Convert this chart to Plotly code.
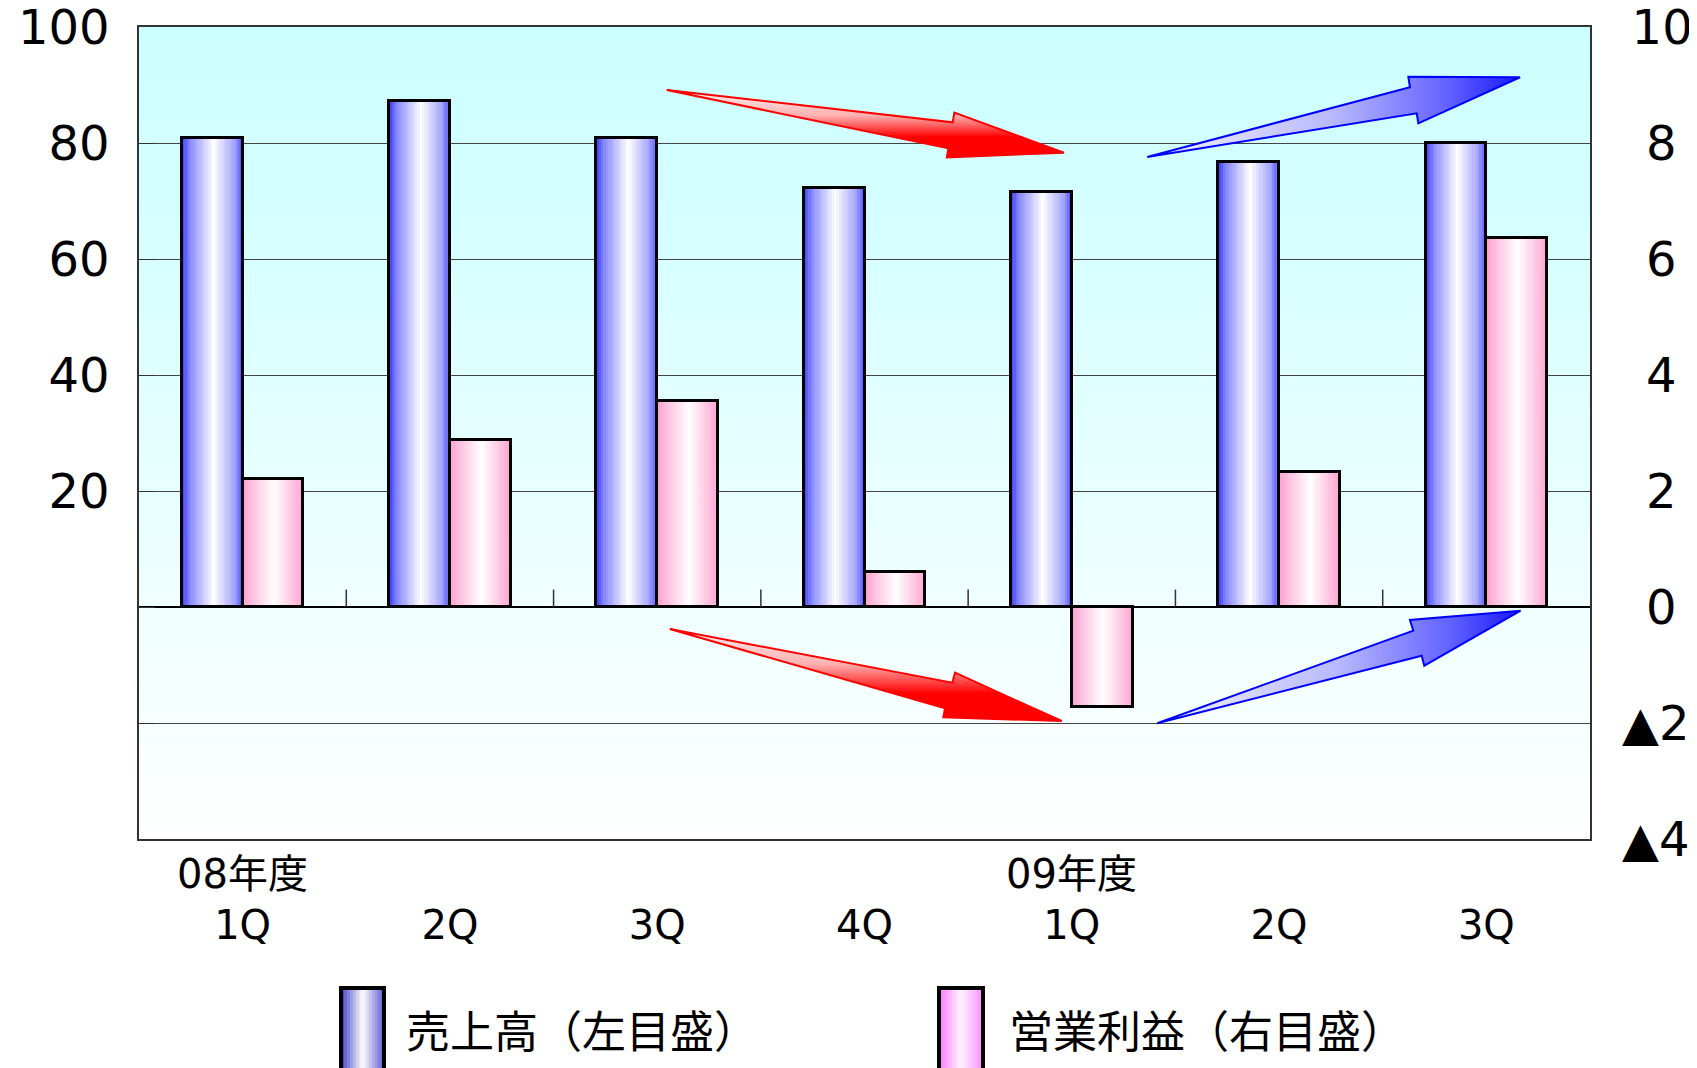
import plotly.graph_objects as go

# ---------------- data ----------------
quarters = ["1Q", "2Q", "3Q", "4Q", "1Q", "2Q", "3Q"]
fiscal_years = ["08年度", "", "", "", "09年度", "", ""]
sales = [80.8, 87.2, 80.8, 72.2, 71.6, 76.7, 80.0]          # 売上高 (left axis)
op_profit = [2.2, 2.88, 3.56, 0.61, -1.72, 2.33, 6.36]       # 営業利益 (right axis)
left_ticks = [-20, 0, 20, 40, 60, 80, 100]
left_ticktext = ["", "", "20", "40", "60", "80", "100"]
right_ticks = [-4, -2, 0, 2, 4, 6, 8, 10]
right_ticktext = ["▲4", "▲2", "\u20020", "\u20022", "\u20024", "\u20026", "\u20028", "\u200910"]
series_names = ["売上高（左目盛）", "営業利益（右目盛）"]

# ---------------- layout constants ----------------
PAGE_OFF = 8                      # default page body margin
W, H = 1697 - PAGE_OFF, 1068 - PAGE_OFF
PX0, PX1, PY0, PY1 = 139, 1590, 27, 839   # plot area in screen pixels
ML, MT = PX0 - PAGE_OFF, PY0 - PAGE_OFF
PW, PH = PX1 - PX0, PY1 - PY0
MR, MB = W - ML - PW, H - MT - PH
FONT = "Noto Sans CJK JP"
NUMFONT = "DejaVu Sans, Noto Sans CJK JP"
LEFT_RANGE = [-40, 100.0001]
RIGHT_RANGE = [-4, 10.00001]
n = len(sales)
XR = [-0.5, n - 0.5]
BAR_W = 0.293
NSLICE = 26


def lerp_color(stops, t):
    for (t0, c0), (t1, c1) in zip(stops[:-1], stops[1:]):
        if t0 <= t <= t1:
            f = 0 if t1 == t0 else (t - t0) / (t1 - t0)
            c = [round(a + (b - a) * f) for a, b in zip(c0, c1)]
            return "rgb(%d,%d,%d)" % tuple(c)
    c = stops[-1][1]
    return "rgb(%d,%d,%d)" % tuple(c)


def px2paper(px, py):
    return (px - PX0) / PW, (PY1 - py) / PH


blue_stops = [(0, (62, 62, 255)), (0.14, (140, 140, 255)), (0.52, (255, 255, 255)),
              (0.86, (165, 165, 255)), (1, (80, 80, 255))]
pink_stops = [(0, (255, 160, 205)), (0.15, (255, 190, 222)), (0.52, (255, 255, 255)),
              (0.86, (255, 190, 222)), (1, (255, 165, 208))]

fig = go.Figure()
xs = list(range(n))

# gradient bars built from slices
for vals, stops, off, yax in [(sales, blue_stops, -BAR_W, "y"), (op_profit, pink_stops, 0.0, "y2")]:
    sw = BAR_W / NSLICE
    for i in range(NSLICE):
        fig.add_trace(go.Bar(
            x=xs, y=vals, width=sw * 1.35, offset=off + i * sw,
            marker=dict(color=lerp_color(stops, (i + 0.5) / NSLICE), line=dict(width=0)),
            yaxis=yax, showlegend=False, hoverinfo="skip"))
    fig.add_trace(go.Bar(
        x=xs, y=vals, width=BAR_W, offset=off,
        marker=dict(color="rgba(0,0,0,0)", line=dict(color="black", width=3)),
        yaxis=yax, showlegend=False, hoverinfo="skip"))

# decorative block arrows (plot-area fractions: fx from left, fy from bottom)
arrows = [
    ([(0.3637, 0.9224), (0.5608, 0.8826), (0.5619, 0.8945), (0.6375, 0.8452),
      (0.5567, 0.8395), (0.5578, 0.8506)], "red"),
    ([(0.6948, 0.8400), (0.8759, 0.9257), (0.8748, 0.9388), (0.9518, 0.9381),
      (0.8817, 0.8814), (0.8806, 0.8937)], "blue"),
    ([(0.3658, 0.2586), (0.5605, 0.1925), (0.5624, 0.2048), (0.6359, 0.1453),
      (0.5543, 0.1499), (0.5555, 0.1610)], "red"),
    ([(0.7017, 0.1425), (0.8782, 0.2565), (0.8759, 0.2697), (0.9522, 0.2812),
      (0.8858, 0.2134), (0.8840, 0.2257)], "blue"),
]
for pts, kind in arrows:
    loop = pts + [pts[0]]
    ax = [XR[0] + fx * (XR[1] - XR[0]) for fx, fy in loop]
    ay = [RIGHT_RANGE[0] + fy * (RIGHT_RANGE[1] - RIGHT_RANGE[0]) for fx, fy in loop]
    if kind == "red":
        grad = dict(type="vertical",
                    colorscale=[[0, "#FF0000"], [0.3, "#FF0000"], [0.62, "#FFB0B0"], [1, "#FFF4F4"]])
        lc = "#FF0000"
    else:
        grad = dict(type="horizontal",
                    colorscale=[[0, "#F4F4FF"], [0.5, "#B8B8FF"], [0.8, "#6464FF"], [1, "#1818FF"]])
        lc = "#0000FF"
    fig.add_trace(go.Scatter(x=ax, y=ay, mode="lines", fill="toself", fillgradient=grad,
                             line=dict(color=lc, width=2), xaxis="x", yaxis="y2",
                             showlegend=False, hoverinfo="skip"))

shapes = []
# background vertical gradient (white bottom -> light cyan top)
NB = 90
for i in range(NB):
    t = (i + 0.5) / NB
    c = lerp_color([(0, (255, 255, 255)), (0.75, (214, 255, 255)), (1, (204, 255, 255))], t)
    shapes.append(dict(type="rect", xref="paper", yref="paper", x0=0, x1=1,
                       y0=i / NB, y1=(i + 1) / NB + 0.002, fillcolor=c,
                       line=dict(width=0), layer="below"))
# small category-boundary ticks on the zero line
for k in range(n - 1):
    shapes.append(dict(type="line", xref="x", yref="y", x0=k + 0.5, x1=k + 0.5, y0=0, y1=3,
                       line=dict(color="#333333", width=1.5)))

annotations = []
# fiscal-year labels above the quarter tick labels
_, fy_y = px2paper(0, 874)
for i, lab in enumerate(fiscal_years):
    if lab:
        annotations.append(dict(text=lab, xref="x", yref="paper", x=xs[i], y=fy_y,
                                xanchor="center", yanchor="middle", showarrow=False,
                                font=dict(family=NUMFONT, size=40, color="black")))

# custom legend
legend_items = [
    (series_names[0], 341, 384, 404,
     [(0, (60, 60, 200)), (0.5, (255, 255, 255)), (1, (95, 95, 210))]),
    (series_names[1], 939, 983, 1007,
     [(0, (255, 120, 255)), (0.5, (255, 245, 255)), (1, (255, 140, 255))]),
]
for name, sx0, sx1, tx, stops in legend_items:
    NS = 14
    for i in range(NS):
        a0, yb = px2paper(sx0 + (sx1 - sx0) * i / NS, 1075)
        a1, yt = px2paper(sx0 + (sx1 - sx0) * (i + 1) / NS + 0.6, 988)
        shapes.append(dict(type="rect", xref="paper", yref="paper", x0=a0, x1=a1,
                           y0=yb, y1=yt, fillcolor=lerp_color(stops, (i + 0.5) / NS),
                           line=dict(width=0), layer="above"))
    a0, yb = px2paper(sx0, 1075)
    a1, yt = px2paper(sx1, 988)
    shapes.append(dict(type="rect", xref="paper", yref="paper", x0=a0, x1=a1, y0=yb, y1=yt,
                       line=dict(color="black", width=4), fillcolor="rgba(0,0,0,0)", layer="above"))
    ax_, ay_ = px2paper(tx, 1029)
    annotations.append(dict(text=name, xref="paper", yref="paper", x=ax_, y=ay_,
                            xanchor="left", yanchor="middle", showarrow=False,
                            font=dict(family=FONT, size=44, color="black")))

fig.update_layout(
    width=W, height=H,
    margin=dict(l=ML, r=MR, t=MT, b=MB, pad=0, autoexpand=False),
    paper_bgcolor="white", plot_bgcolor="rgba(0,0,0,0)",
    barmode="overlay", bargap=0,
    showlegend=False,
    font=dict(family=FONT, color="black"),
    shapes=shapes, annotations=annotations,
    xaxis=dict(range=XR, tickvals=xs, ticktext=quarters, ticks="", showgrid=False,
               zeroline=False, showline=True, linecolor="#333333", linewidth=1.5, mirror=True,
               automargin=False, ticklabeloverflow="allow",
               tickfont=dict(family=NUMFONT, size=40, color="black"), ticklabelstandoff=50),
    yaxis=dict(range=LEFT_RANGE, tickvals=left_ticks, ticktext=left_ticktext,
               showgrid=True, gridcolor="#444444", gridwidth=1,
               zeroline=True, zerolinecolor="black", zerolinewidth=2,
               showline=True, linecolor="#333333", linewidth=1.5, mirror=True,
               ticks="inside", ticklen=16, tickcolor="#333333",
               automargin=False, ticklabeloverflow="allow",
               tickfont=dict(family=NUMFONT, size=48, color="black"), ticklabelstandoff=18),
    yaxis2=dict(range=RIGHT_RANGE, tickvals=right_ticks, ticktext=right_ticktext,
                overlaying="y", side="right", showgrid=False, zeroline=False,
                showline=False, ticks="", automargin=False, ticklabeloverflow="allow",
                tickfont=dict(family=NUMFONT, size=48, color="black"), ticklabelstandoff=31),
)

fig.write_html("out.html")
